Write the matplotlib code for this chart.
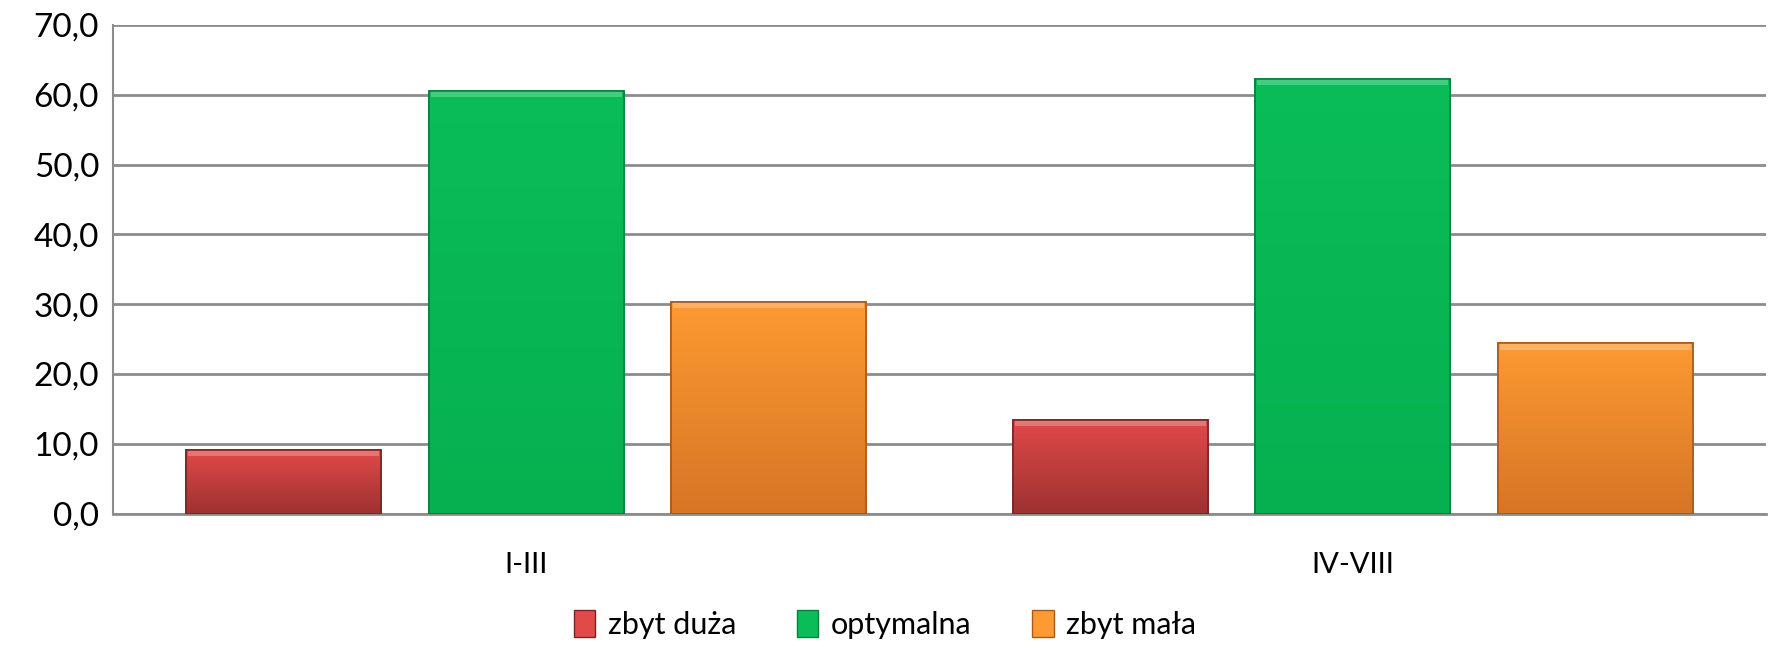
import matplotlib.pyplot as plt
import numpy as np
from matplotlib.colors import LinearSegmentedColormap
from matplotlib.patches import Patch
from matplotlib.ticker import FuncFormatter

categories = ['I-III', 'IV-VIII']
series_names = ['zbyt duża', 'optymalna', 'zbyt mała']
zbyt_duza = [9.1, 13.4]
optymalna = [60.6, 62.3]
zbyt_mala = [30.3, 24.4]

# top, bottom, edge colours per series
styles = [
    ('#e24a4a', '#9e3131', '#7a2424'),
    ('#0abd58', '#06b050', '#05823c'),
    ('#fd9a32', '#d67526', '#a85a1c'),
]

plt.rcParams['font.family'] = ['Lato', 'DejaVu Sans']

fig = plt.figure(figsize=(17.7, 6.5), dpi=100)
ax = fig.add_axes([0.0638, 0.21, 0.934, 0.7515])

x = np.arange(len(categories))
width = 0.236
offsets = [-0.2935, 0.0, 0.2935]

for vals, off, (top, bot, edge) in zip([zbyt_duza, optymalna, zbyt_mala], offsets, styles):
    bars = ax.bar(x + off, vals, width, color=bot, edgecolor=edge, linewidth=1.2, zorder=3)
    cmap = LinearSegmentedColormap.from_list('g', [bot, top])
    for b in bars:
        x0, y0 = b.get_x(), b.get_y()
        w, h = b.get_width(), b.get_height()
        grad = np.linspace(0, 1, 256).reshape(-1, 1)
        im = ax.imshow(grad, extent=(x0, x0 + w, y0, y0 + h), origin='lower',
                       aspect='auto', cmap=cmap, zorder=3.5)
        im.set_clip_path(b)
        # light bevel strip on top
        ax.bar(x0 + w / 2, 0.9, w * 0.98, bottom=y0 + h - 0.9,
               color='white', alpha=0.25, linewidth=0, zorder=4)
        ax.bar(x0 + w / 2, h, w, bottom=y0, fill=False, edgecolor=edge,
               linewidth=1.2, zorder=5)

ax.set_xlim(-0.5, 1.5)
ax.set_ylim(0, 70)
ax.set_yticks(np.arange(0, 71, 10))
ax.yaxis.set_major_formatter(FuncFormatter(lambda v, p: f'{v:.1f}'.replace('.', ',')))
ax.set_xticks(x)
ax.set_xticklabels(categories)
ax.tick_params(axis='y', labelsize=24, length=0, pad=10)
ax.tick_params(axis='x', labelsize=21, length=0, pad=28)
ax.grid(axis='y', color='#8c8c8c', linewidth=2, zorder=0)
for s in ['top', 'right']:
    ax.spines[s].set_visible(False)
ax.spines['left'].set_color('#8c8c8c')
ax.spines['left'].set_linewidth(1.5)
ax.spines['bottom'].set_color('#8c8c8c')
ax.spines['bottom'].set_linewidth(2)

handles = [Patch(facecolor=s[0], edgecolor=s[2]) for s in styles]
fig.legend(handles, series_names, loc='lower center', bbox_to_anchor=(0.5, -0.025),
           ncol=3, frameon=False, fontsize=22, handlelength=0.7, handleheight=1.0,
           handletextpad=0.4, columnspacing=2.0)

fig.savefig('out.png', dpi=100, facecolor='white')
